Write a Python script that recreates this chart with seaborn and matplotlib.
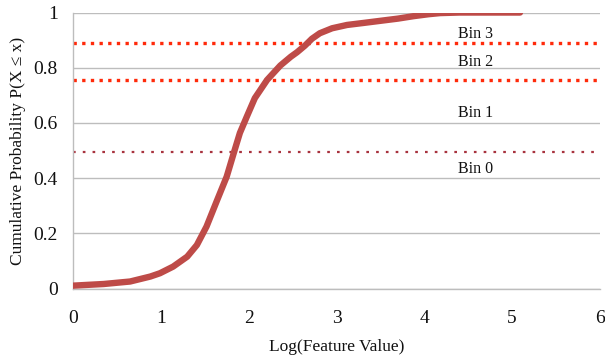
import matplotlib
matplotlib.use("Agg")
import matplotlib.pyplot as plt
import seaborn as sns
import pandas as pd

# Empirical CDF of the log-scaled feature
log_value = [0.00, 0.35, 0.65, 0.88, 0.99, 1.14, 1.30, 1.41, 1.52, 1.64, 1.75, 1.83,
             1.90, 1.98, 2.07, 2.21, 2.36, 2.48, 2.55, 2.64, 2.72, 2.81, 2.95, 3.12,
             3.30, 3.50, 3.70, 3.88, 4.05, 4.18, 4.40, 4.80, 5.09]
cum_prob = [0.011, 0.017, 0.026, 0.044, 0.056, 0.080, 0.116, 0.158, 0.225, 0.320, 0.406,
            0.491, 0.564, 0.624, 0.690, 0.756, 0.808, 0.840, 0.856, 0.880, 0.905, 0.925,
            0.943, 0.955, 0.962, 0.970, 0.978, 0.987, 0.994, 0.998, 1.000, 1.000, 1.000]

# Bin boundaries and labels
bin_edges = [0.496, 0.754, 0.888]
bin_edge_colors = ["#A8323E", "#FF2A0A", "#FF2A0A"]
bin_names = ["Bin 0", "Bin 1", "Bin 2", "Bin 3"]
bin_label_y = [0.435, 0.635, 0.822, 0.922]
bin_label_x = 4.58

x_ticks = [0, 1, 2, 3, 4, 5, 6]
y_ticks = [0, 0.2, 0.4, 0.6, 0.8, 1.0]
y_tick_labels = ["0", "0.2", "0.4", "0.6", "0.8", "1"]

sns.set_style("white")
plt.rcParams["font.family"] = ["Liberation Serif", "DejaVu Serif"]

df = pd.DataFrame({"x": log_value, "p": cum_prob})

fig = plt.figure(figsize=(6.05, 3.58), dpi=100)
ax = fig.add_axes([0.1207, 0.1936, 0.8710, 0.7714])

ax.set_xlim(0, 6)
ax.set_ylim(0, 1)
ax.set_yticks(y_ticks)
ax.set_yticklabels(y_tick_labels)
ax.set_xticks(x_ticks)
ax.yaxis.grid(True, color="#BDBDBD", linewidth=1.0)
ax.set_axisbelow(True)

for spine in ["top", "right"]:
    ax.spines[spine].set_visible(False)
for spine in ["left", "bottom"]:
    ax.spines[spine].set_color("#BDBDBD")
    ax.spines[spine].set_linewidth(1.0)

ax.tick_params(axis="both", direction="out", length=4, width=1, color="#BDBDBD",
               labelsize=14, labelcolor="#111111", pad=7)
ax.tick_params(axis="x", pad=11)

# Bin boundary lines
for i, (edge, col) in enumerate(zip(bin_edges, bin_edge_colors)):
    if i == 0:
        ax.axhline(edge, color=col, linewidth=1.6, linestyle=(0, (1.2, 3.2)), zorder=2)
    else:
        ax.axhline(edge, color=col, linewidth=2.4, linestyle=(0, (1, 1.6)), zorder=2)

sns.lineplot(data=df, x="x", y="p", ax=ax, color="#BE4B48", linewidth=4.6,
             solid_capstyle="round", solid_joinstyle="round", zorder=3)

for name, yy in zip(bin_names, bin_label_y):
    ax.text(bin_label_x, yy, name, ha="center", va="center", fontsize=11.5,
            color="#111111")

ax.set_xlabel("Log(Feature Value)", fontsize=12.5, color="#111111", labelpad=9)
ax.set_ylabel("Cumulative Probability P(X \u2264 x)", fontsize=12.5, color="#111111",
              labelpad=5)

fig.savefig("out.png", dpi=100)
